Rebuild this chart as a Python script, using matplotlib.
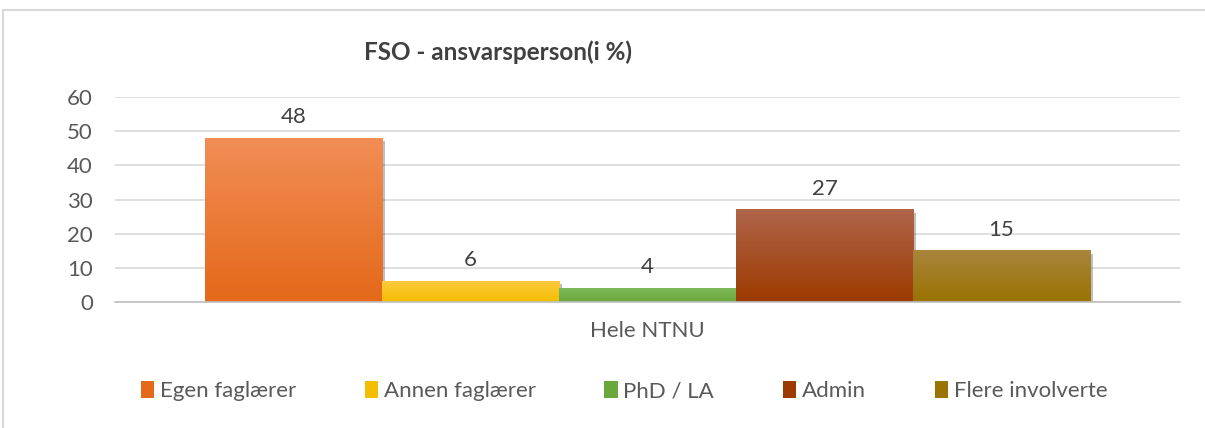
import numpy as np
import matplotlib
matplotlib.use("Agg")
import matplotlib.pyplot as plt
from matplotlib.patches import Rectangle
from matplotlib.colors import LinearSegmentedColormap
import matplotlib.patheffects as pe

plt.rcParams['font.family'] = ['Lato', 'DejaVu Sans']

# andel per ansvarsperson, hele NTNU
categories = ["Egen faglærer", "Annen faglærer", "PhD / LA", "Admin", "Flere involverte"]
values = [48, 6, 4, 27, 15]
group_label = "Hele NTNU"
yticks = [0, 10, 20, 30, 40, 50, 60]

# (top, bottom) colours for the vertical gradient on each bar
grad_colors = [
    ("#F18D55", "#E4691A"),
    ("#FFC93D", "#F4BE00"),
    ("#7DB955", "#6AA83E"),
    ("#B0654A", "#9C3A00"),
    ("#A9853E", "#9A7300"),
]
text_col = "#404040"
axis_text = "#595959"

fig = plt.figure(figsize=(12.05, 4.28), dpi=100)
fig.patches.append(Rectangle((3 / 1205, -0.1), 1.1, 1 - 10 / 428 + 0.1,
                             transform=fig.transFigure, fill=False,
                             edgecolor="#D9D9D9", linewidth=1.5))

ax = fig.add_axes([115 / 1205, 1 - 302 / 428, 1065 / 1205, 205 / 428])

n = len(values)
w = 0.831 / n
xs = [-0.831 / 2 + w * (i + 0.5) for i in range(n)]

bars = ax.bar(xs, values, width=w, color=[c[1] for c in grad_colors], zorder=3)
for b, (top, bot) in zip(bars, grad_colors):
    b.set_path_effects([pe.SimplePatchShadow(offset=(2, -2), shadow_rgbFace="#000000", alpha=0.25),
                        pe.Normal()])
    cmap = LinearSegmentedColormap.from_list("g", [bot, top])
    grad = np.linspace(1, 0, 64).reshape(-1, 1)
    x0 = b.get_x()
    ax.imshow(grad, extent=[x0, x0 + b.get_width(), 0, b.get_height()],
              cmap=cmap, aspect="auto", zorder=4, interpolation="bilinear")
    ax.annotate(str(int(b.get_height())), (x0 + b.get_width() / 2, b.get_height()),
                xytext=(0, 8), textcoords="offset points", ha="center", va="bottom",
                fontsize=16, color=text_col)

ax.set_xlim(-0.5, 0.5)
ax.set_ylim(0, 60)
ax.set_yticks(yticks)
ax.set_xticks([0])
ax.set_xticklabels([group_label])
ax.tick_params(axis="both", length=0, labelsize=16, labelcolor=axis_text)
ax.tick_params(axis="x", pad=14)
ax.tick_params(axis="y", pad=16)
ax.grid(axis="y", color="#D9D9D9", linewidth=1.2, zorder=0)
for s in ["top", "right", "left"]:
    ax.spines[s].set_visible(False)
ax.spines["bottom"].set_color("#BFBFBF")
ax.spines["bottom"].set_linewidth(1.2)
ax.spines["bottom"].set_zorder(5)

fig.text(498 / 1205, 1 - 52 / 428, "FSO - ansvarsperson(i %)", ha="center", va="center",
         fontsize=17.5, fontweight="bold", color=text_col)

handles = [Rectangle((0, 0), 1, 1, facecolor=c[1]) for c in grad_colors]
fig.legend(handles, categories, loc="center", bbox_to_anchor=(624 / 1205, 1 - 391 / 428),
           ncol=n, frameon=False, handlelength=0.6, handleheight=0.8, handletextpad=0.25,
           columnspacing=3.1, fontsize=16, labelcolor=axis_text)

fig.savefig("out.png", dpi=100)
